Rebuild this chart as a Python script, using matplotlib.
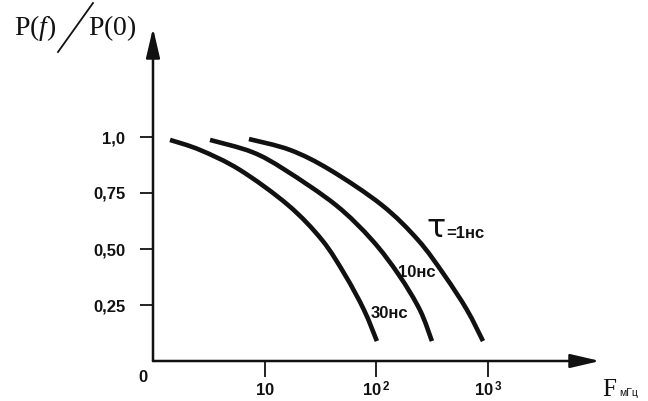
import numpy as np
import matplotlib
matplotlib.use("Agg")
import matplotlib.pyplot as plt
from matplotlib.lines import Line2D
from matplotlib.path import Path
from matplotlib.patches import PathPatch
from matplotlib.ticker import NullLocator

plt.rcParams['mathtext.fontset'] = 'custom'
plt.rcParams['mathtext.rm'] = 'Liberation Serif'
plt.rcParams['mathtext.it'] = 'Liberation Serif:italic'
plt.rcParams['mathtext.bf'] = 'Liberation Sans:bold'

# ---- data (frequency in MHz, normalized power) ----
f_30ns = [1.42, 2.64, 6.0, 16.2, 32.6, 52.4, 77.4, 101]
p_30ns = [0.987, 0.942, 0.853, 0.696, 0.540, 0.384, 0.228, 0.089]

f_10ns = [3.24, 7.7, 15.2, 43.4, 91.4, 159, 245, 314]
p_10ns = [0.987, 0.933, 0.853, 0.696, 0.540, 0.384, 0.228, 0.089]

f_1ns = [7.23, 16.9, 38.5, 112, 236, 405, 647, 900]
p_1ns = [0.991, 0.942, 0.853, 0.696, 0.540, 0.384, 0.228, 0.089]

y_ticks = [0.25, 0.50, 0.75, 1.0]
y_ticklabels = ["0,25", "0,50", "0,75", "1,0"]
x_ticks = [10, 100, 1000]
x_ticklabels = [r"$\mathbf{10}$", r"$\mathbf{10}^{\mathbf{\;2}}$", r"$\mathbf{10}^{\mathbf{\;3}}$"]

W, H = 648, 401
fig = plt.figure(figsize=(W / 100, H / 100), dpi=100)
fig.patch.set_facecolor("white")

# axes geometry in pixels
x0, x1, y0, y1 = 153, 600, 361, 28
ax = fig.add_axes([x0 / W, (H - y0) / H, (x1 - x0) / W, (y0 - y1) / H])
ax.set_xscale("log")
dec = 111.7
ax.set_xlim(1, 10 ** ((x1 - x0) / dec))
ax.set_ylim(0, (y0 - y1) / 224.0)
ax.patch.set_alpha(0)
for s in ax.spines.values():
    s.set_visible(False)

col = "#111111"
lw_curve = 3.3


def smooth_path(fx, py):
    """Cubic Bezier path through the points (Catmull-Rom in log-x space)."""
    u = np.log10(np.asarray(fx, float))
    v = np.asarray(py, float)
    su, sv = 111.7, 224.0
    P = np.column_stack([u * su, v * sv])
    n = len(P)
    verts = [P[0]]
    codes = [Path.MOVETO]
    for i in range(n - 1):
        p0 = P[i - 1] if i > 0 else P[i]
        p1, p2 = P[i], P[i + 1]
        p3 = P[i + 2] if i + 2 < n else P[i + 1]
        c1 = p1 + (p2 - p0) / 6.0
        c2 = p2 - (p3 - p1) / 6.0
        verts += [c1, c2, p2]
        codes += [Path.CURVE4] * 3
    verts = np.array(verts)
    verts = np.column_stack([10 ** (verts[:, 0] / su), verts[:, 1] / sv])
    return Path(verts, codes)


for fx, py in [(f_30ns, p_30ns), (f_10ns, p_10ns), (f_1ns, p_1ns)]:
    ax.add_patch(PathPatch(smooth_path(fx, py), facecolor="none", edgecolor=col,
                           lw=lw_curve, capstyle="butt"))

# axes with arrows
arrow_kw = dict(arrowstyle="-|>,head_length=1.8,head_width=0.42", lw=1.8, color=col,
                shrinkA=0, shrinkB=0, mutation_scale=10)
ax.annotate("", xy=(1, 0), xytext=(0, 0), xycoords="axes fraction", textcoords="axes fraction",
            arrowprops=arrow_kw, annotation_clip=False)
ax.annotate("", xy=(0, 1), xytext=(0, 0), xycoords="axes fraction", textcoords="axes fraction",
            arrowprops=arrow_kw, annotation_clip=False)

ax.set_yticks(y_ticks)
ax.set_yticklabels(y_ticklabels, fontsize=12, fontweight="bold", family="Liberation Sans", color=col)
ax.set_xticks(x_ticks)
ax.set_xticklabels(x_ticklabels, fontsize=12, color=col)
ax.xaxis.set_minor_locator(NullLocator())
ax.tick_params(axis="y", direction="out", length=9.4, width=1.3, pad=10.5, color=col)
ax.tick_params(axis="x", direction="out", length=11.5, width=1.3, pad=3, color=col)

# origin label
ax.text(-0.022, -0.051, "0", transform=ax.transAxes, ha="center", va="center",
        fontsize=12, fontweight="bold", family="Liberation Sans", color=col)

# curve labels
lab_kw = dict(fontsize=12, fontweight="bold", family="Liberation Sans", color=col, va="center", ha="left")
ax.text(89.5, 0.214, "30нс", **lab_kw)
ax.text(156, 0.397, "10нс", **lab_kw)
ax.text(280, 0.59, "τ", fontsize=23, family="DejaVu Sans", color=col, va="center", ha="left")
ax.text(420, 0.571, "=1нс", **lab_kw)

# axis titles
fig.text(602 / W, (H - 396) / H, "F", fontsize=18, family="Liberation Serif", color=col,
         ha="left", va="baseline")
fig.text(619 / W, (H - 396) / H, "мГц", fontsize=7.5, family="Liberation Sans", color=col,
         ha="left", va="baseline")

fig.text(14 / W, (H - 35) / H, r"$\mathrm{P(}\mathit{f}\mathrm{)}$", fontsize=20, color=col,
         ha="left", va="baseline")
fig.text(88 / W, (H - 35) / H, r"$\mathrm{P(0)}$", fontsize=20, color=col,
         ha="left", va="baseline")
fig.add_artist(Line2D([58 / W, 93 / W], [(H - 52) / H, (H - 3) / H], color=col, lw=1.3,
                      transform=fig.transFigure))

fig.savefig("out.png", dpi=100, facecolor="white")
